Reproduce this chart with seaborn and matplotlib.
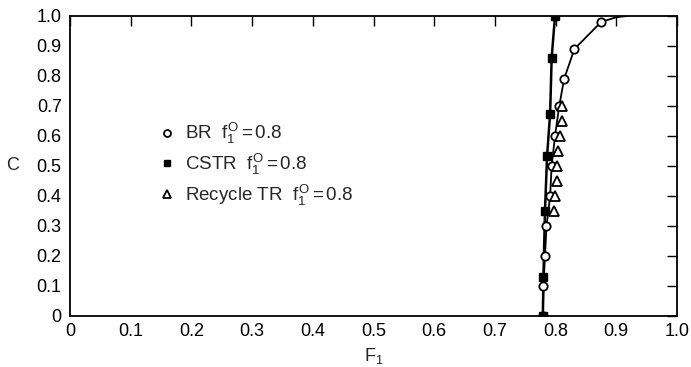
import matplotlib
matplotlib.use("Agg")
import matplotlib.pyplot as plt
from matplotlib.lines import Line2D
import seaborn as sns
import pandas as pd

# --- data ---
br_F = [0.779, 0.780, 0.7825, 0.785, 0.791, 0.7935, 0.799, 0.806, 0.814, 0.831, 0.875]
br_C = [0.0, 0.10, 0.20, 0.30, 0.40, 0.50, 0.60, 0.70, 0.79, 0.89, 0.98]
br_curve_end_F = [0.90, 0.918]
br_curve_end_C = [0.996, 1.0]

cstr_F = [0.779, 0.780, 0.7825, 0.786, 0.791, 0.7935, 0.799]
cstr_C = [0.0, 0.13, 0.35, 0.535, 0.675, 0.86, 1.0]

tr_F = [0.797, 0.799, 0.802, 0.802, 0.804, 0.807, 0.810, 0.811]
tr_C = [0.35, 0.40, 0.45, 0.50, 0.55, 0.60, 0.65, 0.70]

xticks = [0, 0.1, 0.2, 0.3, 0.4, 0.5, 0.6, 0.7, 0.8, 0.9, 1.0]
xticklabels = ["0", "0.1", "0.2", "0.3", "0.4", "0.5", "0.6", "0.7", "0.8", "0.9", "1.0"]
yticks = [0, 0.1, 0.2, 0.3, 0.4, 0.5, 0.6, 0.7, 0.8, 0.9, 1.0]
yticklabels = ["0", "0.1", "0.2", "0.3", "0.4", "0.5", "0.6", "0.7", "0.8", "0.9", "1.0"]

legend_labels = [r"BR  $f_1^{\mathrm{O}}$$\,$=$\,$0.8",
                 r"CSTR  $f_1^{\mathrm{O}}$$\,$=$\,$0.8",
                 r"Recycle TR  $f_1^{\mathrm{O}}$$\,$=$\,$0.8"]

sns.set_theme(style="white")
plt.rcParams["font.family"] = ["Liberation Sans", "DejaVu Sans"]
plt.rcParams["mathtext.fontset"] = "custom"
plt.rcParams["mathtext.rm"] = "Liberation Sans"
plt.rcParams["mathtext.it"] = "Liberation Sans"

fig = plt.figure(figsize=(6.91, 3.67), dpi=100)
ax = fig.add_axes([70/691, 51/367, 607/691, 300/367])

br_line = pd.DataFrame({"F": br_F + br_curve_end_F, "C": br_C + br_curve_end_C})
sns.lineplot(data=br_line, x="F", y="C", sort=False, estimator=None,
             color="black", lw=1.3, ax=ax)
sns.lineplot(x=cstr_F, y=cstr_C, sort=False, estimator=None,
             color="black", lw=1.8, ax=ax)

ax.plot(br_F, br_C, linestyle="none", marker="o", ms=6, mfc="white",
        mec="black", mew=1.3, zorder=4)
ax.plot(cstr_F, cstr_C, linestyle="none", marker="s", ms=6, mfc="black",
        mec="black", zorder=5)
ax.plot(tr_F, tr_C, linestyle="none", marker="^", ms=6.5, mfc="white",
        mec="black", mew=1.3, zorder=6)

ax.set_xlim(0, 1.0)
ax.set_ylim(0, 1.0)
ax.set_xticks(xticks)
ax.set_xticklabels(xticklabels)
ax.set_yticks(yticks)
ax.set_yticklabels(yticklabels)
ax.tick_params(direction="in", length=7, width=1.0, top=True, right=True,
               labelsize=13, colors="black", pad=5)
ax.tick_params(axis="y", pad=6)
for sp in ax.spines.values():
    sp.set_visible(True)
    sp.set_color("black")
    sp.set_linewidth(1.3)

ax.set_xlabel(r"F$_1$", fontsize=13, labelpad=4)
ax.set_ylabel("C", fontsize=13, rotation=0, labelpad=8, va="center")
ax.yaxis.set_label_coords(-0.095, 0.5)

handles = [
    Line2D([], [], linestyle="none", marker="o", ms=5, mfc="white", mec="black", mew=1.3),
    Line2D([], [], linestyle="none", marker="s", ms=5, mfc="black", mec="black"),
    Line2D([], [], linestyle="none", marker="^", ms=5.5, mfc="white", mec="black", mew=1.3),
]
leg = ax.legend(handles, legend_labels, loc="upper left",
                bbox_to_anchor=(0.135, 0.675), frameon=False, fontsize=13.5,
                handlelength=0.8, handletextpad=0.55, labelspacing=0.3,
                borderaxespad=0)

fig.savefig("out.png", dpi=100, facecolor="white")
